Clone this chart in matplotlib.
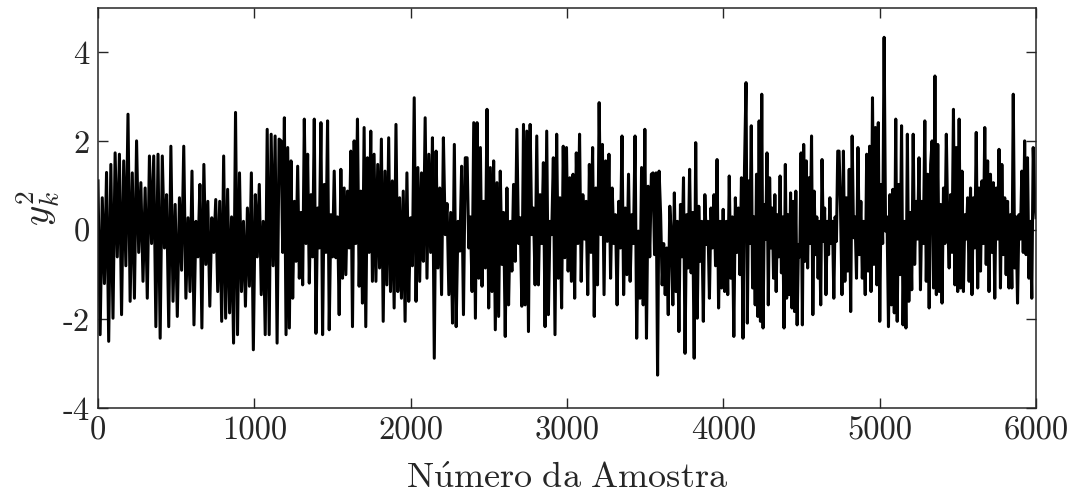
import matplotlib
matplotlib.use('Agg')
import matplotlib.pyplot as plt
import numpy as np

# limites (em amostras) de cada trecho
limites = [0, 576, 1171, 1766, 2361, 2955, 3550, 4145, 4740, 5335, 6000]

trecho1 = [1.11, -2.35, 0.73, -1.2, 1.3, -2.50, 1.48, -1.98, 1.74, -0.6, 1.71, -1.90, 1.56, -0.8,
           2.61, -1.60, 1.29, -1.53, 2.01, -0.5, 1.07, -1.15, 0.95, -1.53, 1.67, -0.3, 1.67, -2.17,
           1.71, -2.43, 1.67, -0.40, 0.8, -2.17, 1.89, -1.60, 0.58, -1.94, 0.73, -0.9, 1.89, -1.53]
trecho2 = [0.28, -1.38, 1.33, -2.13, 0.20, -0.6, 1.03, -2.20, 1.48, -0.77, 0.65, -1.71, 0.28, -0.5,
           0.69, -1.38, 0.65, -2.05, 1.67, -1.98, 0.92, -1.86, 0.3, -2.54, 2.65, -2.35, 1.29, -1.38,
           0.2, -1.71, 0.50, -1.26, 1.29, -2.69, 0.80, -0.6, 1.03, -1.45, 0.2, -2.35, 2.27, -2.35,
           2.16, -0.8, 2.12, -2.54, 2.05]
trecho3 = [2.01, -0.5, 2.53, -2.35, 1.86, -2.20, 1.56, -1.53, 0.65, -0.7, 1.44, -1.08, 0.4, -1.23,
           2.50, -0.3, 1.71, -1.19, 0.80, -0.6, 2.50, -2.32, 0.50, -0.4, 2.42, -2.35, 1.03, -0.5,
           2.46, -2.24, 0.35, -0.6, 1.33, -0.62, 0.3, -1.90, 1.37, -1.08, 0.95, -1.00, 0.88, -0.4,
           1.78, -2.17, 2.01, -0.3, 2.50, -1.26, 0.88, -1.64, 2.31, -2.17, 1.63, -0.5, 2.23, -1.15]
trecho4 = [1.71, -1.15, 1.48, -0.85, 2.05, -2.05, 1.33, -1.23, 2.08, -1.38, 1.11, -1.75, 2.38, -1.38,
           0.73, -1.53, 0.88, -2.05, 1.29, -1.60, 0.28, -0.8, 2.98, -1.60, 1.41, -1.15, 1.29, -0.70,
           2.53, -1.08, 1.71, -0.5, 2.08, -2.88, 1.78, -0.85, 0.95, -1.45, 2.08, -0.10, 0.6, -1.45,
           0.4, -2.09, 1.93, -2.17, 0.2, -0.47, 1.44, -1.90, 1.63]
trecho5 = [1.63, -0.40, 0.3, -1.38, 2.42, -1.98, 2.42, -1.08, 1.86, -1.26, 0.65, -0.85, 2.72, -1.75,
           1.41, -1.38, 1.56, -2.24, 1.07, -1.94, 1.33, -0.77, 0.4, -2.39, 0.95, -1.68, 0.2, -0.92,
           1.03, -0.70, 2.27, -0.3, 0.28, -1.71, 2.38, -1.68, 2.23, -2.28, 2.38, -0.10, 0.5, -1.23,
           2.12, -1.23, 0.80, -0.3, 1.52, -2.17, 2.23, -1.90, 0.2, -0.10, 1.63, -2.35, 2.16, -1.08]
trecho6 = [0.73, -1.75, 1.89, -0.62, 1.86, -0.92, 1.18, -1.15, 1.26, -1.53, 1.74, -0.3, 2.16, -1.15,
           0.80, -0.2, 0.65, -1.45, 1.48, -0.5, 1.86, -1.94, 0.95, -1.23, 2.87, -0.10, 1.93, -1.45,
           1.56, -0.25, 1.71, -1.08, 0.95, -0.3, 0.35, -1.68, 0.65, -0.4, 2.12, -1.45, 0.50, -1.00,
           1.26, -1.15, 0.35, -0.3, 2.12, -2.43, -0.02, -1.53, 1.41, -1.68, 2.27, -2.43, 0.99, -0.6, 1.26]
trecho7 = [1.29, -0.55, 1.29, -3.26, 1.33, 0.35, -1.23, -0.3, -1.45, -0.40, -1.90, 0.54, -0.10, -1.68,
           0.84, -1.38, 0.2, -2.28, 0.58, -0.6, 1.18, -2.77, 0.35, -0.85, 1.37, -0.96, 0.4, -2.88,
           1.97, -1.98, 0.54, -0.70, 0.2, -2.05, 0.80, -0.32, 0.2, -1.53, 0.50, -0.4, 0.80, -0.8,
           1.59, -1.75, 0.20, -1.30, 0.47, -1.38, 0.20, -1.45, 1.22, -1.08, 0.3, -2.39, 0.73, -0.5,
           0.50, -1.00, 1.18, -2.43, 1.41]
trecho8 = [3.32, -2.09, 1.11, -0.3, 2.35, -1.30, 0.3, -1.68, 1.26, -1.94, 2.46, -2.05, 3.06, -2.20,
           0.58, -0.2, 1.74, -1.68, 1.18, -0.40, 0.5, -1.08, 0.80, -1.38, 0.35, -0.6, 1.22, -0.96,
           0.3, -2.20, 1.48, -1.53, 0.35, -1.45, 0.84, -1.75, 0.65, -1.83, 0.88, -2.13, -0.32, -0.6,
           1.74, -2.13, 1.93, -0.70, 1.56, -0.85, 1.18, -0.3, 2.12, -1.90, 0.88, -0.55, 0.3, -1.08,
           0.2, -1.68, 1.59, -0.25, 0.5, -1.45, 0.2, -0.55, 0.73, -0.3, 0.20, -1.53, 0.3, -0.25, 1.78]
trecho9 = [1.78, 0.50, -1.45, 1.78, -1.15, 0.73, -0.92, 1.37, -1.83, 2.12, -0.17, 0.3, -1.08, 1.86,
           -0.55, 0.65, -1.08, 0.2, -1.45, 1.71, -0.92, 1.89, -1.38, 2.98, -0.77, 2.31, -1.23, 2.42,
           -2.05, 1.03, -0.3, 4.34, -0.02, 0.3, -2.17, 0.80, -1.68, 0.92, -1.86, 2.50, -2.05, 1.03,
           -1.00, 2.35, -2.13, 0.2, -2.20, 2.16, -1.60, 0.4, -1.34, 2.16, -0.77, 0.65, -0.2, 1.63,
           -1.34, 0.65, -0.3, 2.46, -1.15, 1.26, -1.75, 1.48]
trecho10 = [2.01, -1.30, 3.47, -1.45, 1.93, -1.38, 0.58, -1.64, 0.95, -0.3, 2.16, 0.13, -0.85, 0.80,
            -0.5, 2.72, -1.23, 1.86, -1.38, 2.50, -1.30, 1.33, -1.38, 0.35, -0.2, 0.73, -1.15, 0.95,
            -1.45, 0.73, -0.4, 2.20, -1.30, 0.95, -0.92, 1.11, -0.3, 2.31, -0.77, 1.56, -1.38, 1.26,
            -0.5, 1.07, -1.53, 0.95, -0.2, 1.82, -1.30, 1.48, -0.55, 0.73, -1.00, 0.65, -1.30, 0.35,
            -1.30, 3.06, -0.85, 0.3, -1.64, 0.35, -0.2, 1.33, -0.5, 2.01, -0.55, 1.63, -1.08, 0.2,
            -1.53, 1.86, 0.73, 0.28]

trechos = [trecho1, trecho2, trecho3, trecho4, trecho5, trecho6, trecho7, trecho8, trecho9, trecho10]

amostra = []
y = []
for i, t in enumerate(trechos):
    ultimo = (i == len(trechos) - 1)
    amostra.extend(np.linspace(limites[i], limites[i + 1], len(t), endpoint=ultimo))
    y.extend(t)

plt.rcParams['font.family'] = 'serif'
plt.rcParams['font.serif'] = ['cmr10']
plt.rcParams['mathtext.fontset'] = 'cm'
plt.rcParams['axes.unicode_minus'] = False

fig = plt.figure(figsize=(10.79, 4.98), dpi=100)
ax = fig.add_axes([0.0908, 0.1807, 0.8694, 0.8033])

ax.plot(amostra, y, color='k', linewidth=2.2)

ax.set_xlim(0, 6000)
ax.set_ylim(-4, 5)
ax.set_xticks([0, 1000, 2000, 3000, 4000, 5000, 6000])
ax.set_yticks([-4, -2, 0, 2, 4])

ax.tick_params(direction='in', length=7, width=1.0, top=True, right=True,
               labelsize=23.5, colors='#262626', labelcolor='#262626', pad=6)
for s in ax.spines.values():
    s.set_linewidth(1.1)
    s.set_color('#262626')

ax.set_xlabel(r'$\mathrm{N\acute{u}mero\ da\ Amostra}$', fontsize=26, color='#262626', labelpad=13)
ax.set_ylabel(r'$y_k^2$', fontsize=28, color='#262626', labelpad=0)

fig.savefig('out.png', dpi=100)
